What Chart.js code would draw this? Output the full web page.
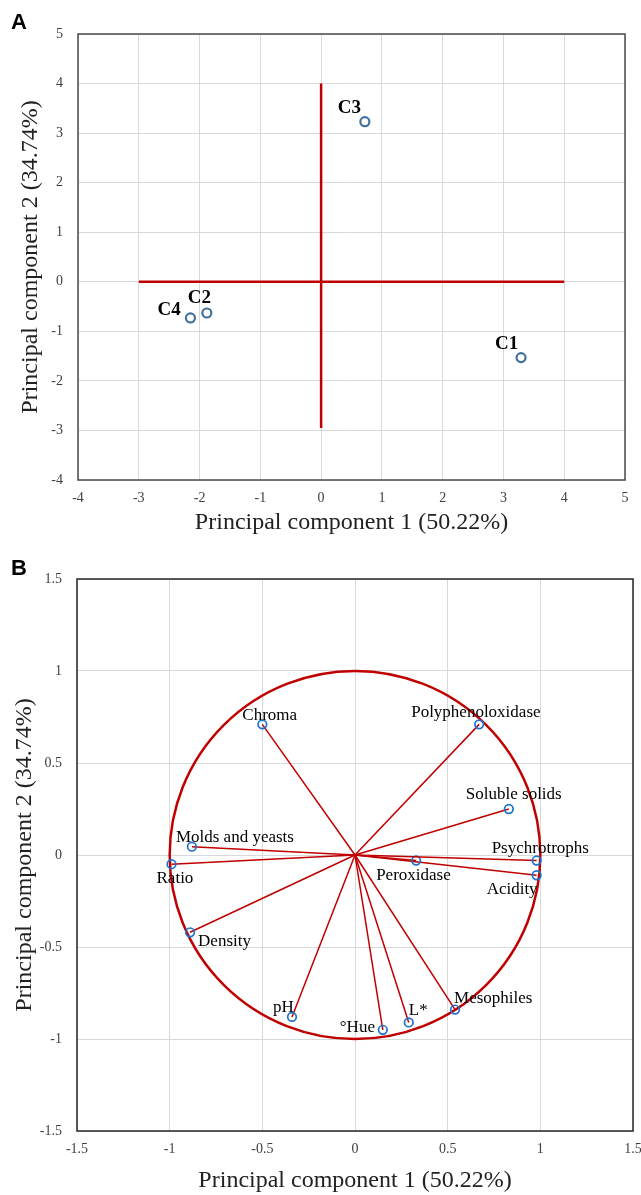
<!DOCTYPE html>
<html>
<head>
<meta charset="utf-8">
<title>PCA plots</title>
<script src="https://cdn.jsdelivr.net/npm/chart.js@4.4.1/dist/chart.umd.min.js"></script>
<style>
  body { margin: 0; background: #fff; width: 641px; height: 1195px; overflow: hidden; }
  .panel { position: absolute; left: 0; width: 641px; }
  .tag { position: absolute; left: 11px; font: bold 22px "Liberation Sans", Arial, sans-serif; color: #000; }
</style>
</head>
<body>
<div class="panel" style="top:0;height:545px"><canvas id="chartA" width="641" height="545"></canvas></div>
<div class="panel" style="top:545px;height:650px"><canvas id="chartB" width="641" height="650"></canvas></div>
<div class="tag" style="top:9px">A</div>
<div class="tag" style="top:555px">B</div>
<script>
// Panel A - scores
const scoreNames = ['C1', 'C2', 'C3', 'C4'];
const scorePC1 = [3.29, -1.88, 0.72, -2.15];
const scorePC2 = [-1.53, -0.63, 3.23, -0.73];
const crossH = [[-3, 0], [4, 0]];
const crossV = [[0, -2.95], [0, 4]];
const ticksA = [-4, -3, -2, -1, 0, 1, 2, 3, 4, 5];

// Panel B - loadings
const varNames = ['Chroma', 'Molds and yeasts', 'Ratio', 'Density', 'pH', '°Hue', 'L*',
  'Mesophiles', 'Polyphenoloxidase', 'Soluble solids', 'Psychrotrophs', 'Peroxidase', 'Acidity'];
const loadPC1 = [-0.50, -0.88, -0.99, -0.89, -0.34, 0.15, 0.29, 0.54, 0.67, 0.83, 0.98, 0.33, 0.98];
const loadPC2 = [0.71, 0.045, -0.05, -0.42, -0.88, -0.95, -0.91, -0.84, 0.71, 0.25, -0.03, -0.03, -0.11];
const ticksB = [-1.5, -1, -0.5, 0, 0.5, 1, 1.5];

const titleX = 'Principal component 1 (50.22%)';
const titleY = 'Principal component 2 (34.74%)';

// label offsets in pixels (text left edge, baseline) from the marker
const offA = { C1: [-26, -9], C2: [-19, -10], C3: [-27, -9], C4: [-33, -3] };
const offB = {
  'Chroma': [-20, -4], 'Molds and yeasts': [-16, -5], 'Ratio': [-15, 19], 'Density': [8, 14],
  'pH': [-19, -5], '°Hue': [-43, 2], 'L*': [0, -7], 'Mesophiles': [-1, -7],
  'Polyphenoloxidase': [-68, -7], 'Soluble solids': [-43, -10], 'Psychrotrophs': [-45, -8],
  'Peroxidase': [-40, 19], 'Acidity': [-50, 19]
};

const RED = '#c00000';
const SERIF = '"Liberation Serif", "Times New Roman", serif';

function axis(ticks, title, yAxis, fixedSize, titlePad) {
    return {
        type: 'linear',
        min: ticks[0],
        max: ticks[ticks.length - 1],
        afterBuildTicks: s => { s.ticks = ticks.map(v => ({ value: v })); },
        afterFit: s => {
            if (yAxis) {
                s.width = fixedSize;
                s.paddingTop = 0; s.paddingBottom = 0;
            } else {
                s.height = fixedSize;
                s.paddingLeft = 0; s.paddingRight = 0;
            }
        },
        grid: { color: '#d9d9d9', lineWidth: 1, drawTicks: false },
        border: { display: false },
        ticks: {
            color: '#404040',
            font: { family: SERIF, size: 14 },
            padding: yAxis ? 15 : 10,
            callback: v => String(v)
        },
        title: {
            display: true,
            text: title,
            color: '#222',
            font: { family: SERIF, size: 24, lineHeight: 1 },
            padding: yAxis ? { top: titlePad, bottom: 0 } : { top: 0, bottom: titlePad }
        }
    };
}

function frame(color) {
    return {
        id: 'frame',
        afterDraw(chart) {
            const a = chart.chartArea, ctx = chart.ctx;
            ctx.save();
            ctx.strokeStyle = color;
            ctx.lineWidth = 1.5;
            ctx.strokeRect(a.left, a.top, a.right - a.left, a.bottom - a.top);
            ctx.restore();
        }
    };
}

function pointLabels(names, xs, ys, offsets, font) {
    return {
        id: 'pointLabels',
        afterDatasetsDraw(chart) {
            const ctx = chart.ctx, sx = chart.scales.x, sy = chart.scales.y;
            ctx.save();
            ctx.font = font;
            ctx.fillStyle = '#000';
            ctx.textAlign = 'left';
            ctx.textBaseline = 'alphabetic';
            names.forEach((n, i) => {
                const o = offsets[n];
                ctx.fillText(n, sx.getPixelForValue(xs[i]) + o[0], sy.getPixelForValue(ys[i]) + o[1]);
            });
            ctx.restore();
        }
    };
}

// unit circle of correlations, drawn through the scales
const unitCircle = {
    id: 'unitCircle',
    beforeDatasetsDraw(chart) {
        const ctx = chart.ctx, sx = chart.scales.x, sy = chart.scales.y;
        const cx = sx.getPixelForValue(0), cy = sy.getPixelForValue(0);
        const rx = sx.getPixelForValue(1) - cx, ry = cy - sy.getPixelForValue(1);
        ctx.save();
        ctx.strokeStyle = RED;
        ctx.lineWidth = 2.5;
        ctx.beginPath();
        ctx.ellipse(cx, cy, rx, ry, 0, 0, Math.PI * 2);
        ctx.stroke();
        ctx.restore();
    }
};

const common = {
    responsive: false,
    animation: false,
    events: [],
    plugins: { legend: { display: false }, tooltip: { enabled: false } }
};

// Chart A
new Chart(document.getElementById('chartA'), {
    type: 'scatter',
    data: {
        datasets: [
            {
                data: scoreNames.map((n, i) => ({ x: scorePC1[i], y: scorePC2[i] })),
                pointRadius: 4.5,
                pointBorderWidth: 2.2,
                pointBorderColor: '#41719c',
                pointBackgroundColor: '#ffffff'
            },
            {
                data: crossH.map(p => ({ x: p[0], y: p[1] })),
                showLine: true, borderColor: RED, borderWidth: 2.5, pointRadius: 0
            },
            {
                data: crossV.map(p => ({ x: p[0], y: p[1] })),
                showLine: true, borderColor: RED, borderWidth: 2.5, pointRadius: 0
            }
        ]
    },
    options: Object.assign({}, common, {
        layout: { padding: { top: 34, right: 16, left: 0, bottom: 0 } },
        scales: {
            x: axis(ticksA, titleX, false, 65, 10),
            y: axis(ticksA, titleY, true, 78, 19)
        }
    }),
    plugins: [frame('#4a4a4a'), pointLabels(scoreNames, scorePC1, scorePC2, offA, 'bold 19px ' + SERIF)]
});

// Chart B
const loadingSets = varNames.map((n, i) => ({
    data: [{ x: 0, y: 0 }, { x: loadPC1[i], y: loadPC2[i] }],
    showLine: true,
    borderColor: RED,
    borderWidth: 1.5,
    pointRadius: [0, 4.3],
    pointBorderWidth: 1.7,
    pointBorderColor: '#1a73d0',
    pointBackgroundColor: 'rgba(0,0,0,0)'
}));

new Chart(document.getElementById('chartB'), {
    type: 'scatter',
    data: { datasets: loadingSets },
    options: Object.assign({}, common, {
        layout: { padding: { top: 34, right: 8, left: 0, bottom: 0 } },
        scales: {
            x: axis(ticksB, titleX, false, 64, 2),
            y: axis(ticksB, titleY, true, 77, 13)
        }
    }),
    plugins: [unitCircle, frame('#262626'), pointLabels(varNames, loadPC1, loadPC2, offB, '17px ' + SERIF)]
});
</script>
</body>
</html>
